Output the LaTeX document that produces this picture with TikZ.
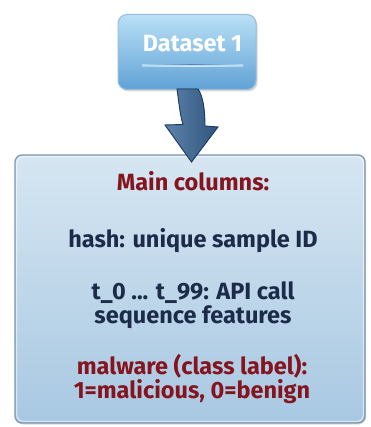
\documentclass[tikz,border=0pt]{standalone}
\usepackage{fontspec}
\setmainfont{Fira Sans}
\usetikzlibrary{shadows,fadings}

\definecolor{labelred}{RGB}{132,20,30}
\definecolor{bodynavy}{RGB}{28,44,72}
\definecolor{panelTop}{RGB}{214,230,242}
\definecolor{panelBot}{RGB}{168,200,226}
\definecolor{panelEdge}{RGB}{125,150,175}
\definecolor{boxTop}{RGB}{186,224,246}
\definecolor{boxBot}{RGB}{96,162,214}
\definecolor{boxEdge}{RGB}{150,190,220}
\definecolor{grooveBlue}{RGB}{60,120,180}
\definecolor{arrowFill}{RGB}{55,100,148}
\definecolor{arrowDark}{RGB}{28,58,95}

\tikzset{
  panelbox/.style={rounded corners=7pt, draw=panelEdge, line width=1.2pt,
    top color=panelTop, bottom color=panelBot,
    drop shadow={shadow xshift=1pt, shadow yshift=-1.5pt, opacity=0.25}},
  titlebox/.style={rounded corners=9pt, draw=boxEdge, line width=1pt,
    top color=boxTop, bottom color=boxBot,
    drop shadow={shadow xshift=1.5pt, shadow yshift=-2pt, opacity=0.3}},
  % multi-line nodes: the base anchor sits on the last line
  bodyfont/.style={font=\bfseries\fontsize{23.5}{24.5}\selectfont, align=center, anchor=base, inner sep=0pt},
  redtext/.style={bodyfont, text=labelred},
  navytext/.style={bodyfont, text=bodynavy},
  titletext/.style={text=white, font=\bfseries\fontsize{23.5}{25}\selectfont, anchor=base, inner sep=0pt},
}

\begin{document}
\begin{tikzpicture}[x=1pt,y=-1pt]
  \useasboundingbox (0,0) rectangle (370,427);
  \fill[white] (0,0) rectangle (370,427);

  % content panel
  \node[panelbox, minimum width=350pt, minimum height=268pt] (panel) at (190,289) {};
  \draw[white, line width=0.8pt, rounded corners=6pt, opacity=0.8]
    (16.8,156.8) rectangle (363.2,421.2);

  % title box
  \node[titlebox, minimum width=138pt, minimum height=75pt] (title) at (187,52) {};
  \node[titletext] (titlelbl) at (192.5,51.7) {Dataset 1};
  % groove under the title
  \shade[left color=boxTop, right color=boxTop, middle color=grooveBlue, opacity=0.8]
    (142,64.2) rectangle (243,65.6);
  \shade[left color=boxTop, right color=boxTop, middle color=white, opacity=0.7]
    (142,65.6) rectangle (243,66.8);

  % curved arrow from the title box to the panel
  \coordinate (arrowtop) at (title.south);
  \coordinate (arrowtip) at (panel.north);
  \filldraw[draw=arrowDark, line width=0.9pt, left color=arrowFill!80!white, right color=arrowFill!85!black]
    (177,89) .. controls (179,103) and (180,115) .. (183,124.5)
    -- (165,125) -- (191.5,162) -- (218,127) -- (205,126)
    .. controls (205,110) and (203,96) .. (198,89) -- cycle;

  % panel text
  \node[redtext] (heading) at (193,191) {Main columns:};
  \node[navytext] (hash) at (193,247.5) {hash: unique sample ID};
  \node[navytext] (tcols) at (193,323.5) {t\_0 ... t\_99: API call\\sequence features};
  \node[redtext] (target) at (192,398.5) {malware (class label):\\1=malicious, 0=benign};
\end{tikzpicture}
\end{document}
